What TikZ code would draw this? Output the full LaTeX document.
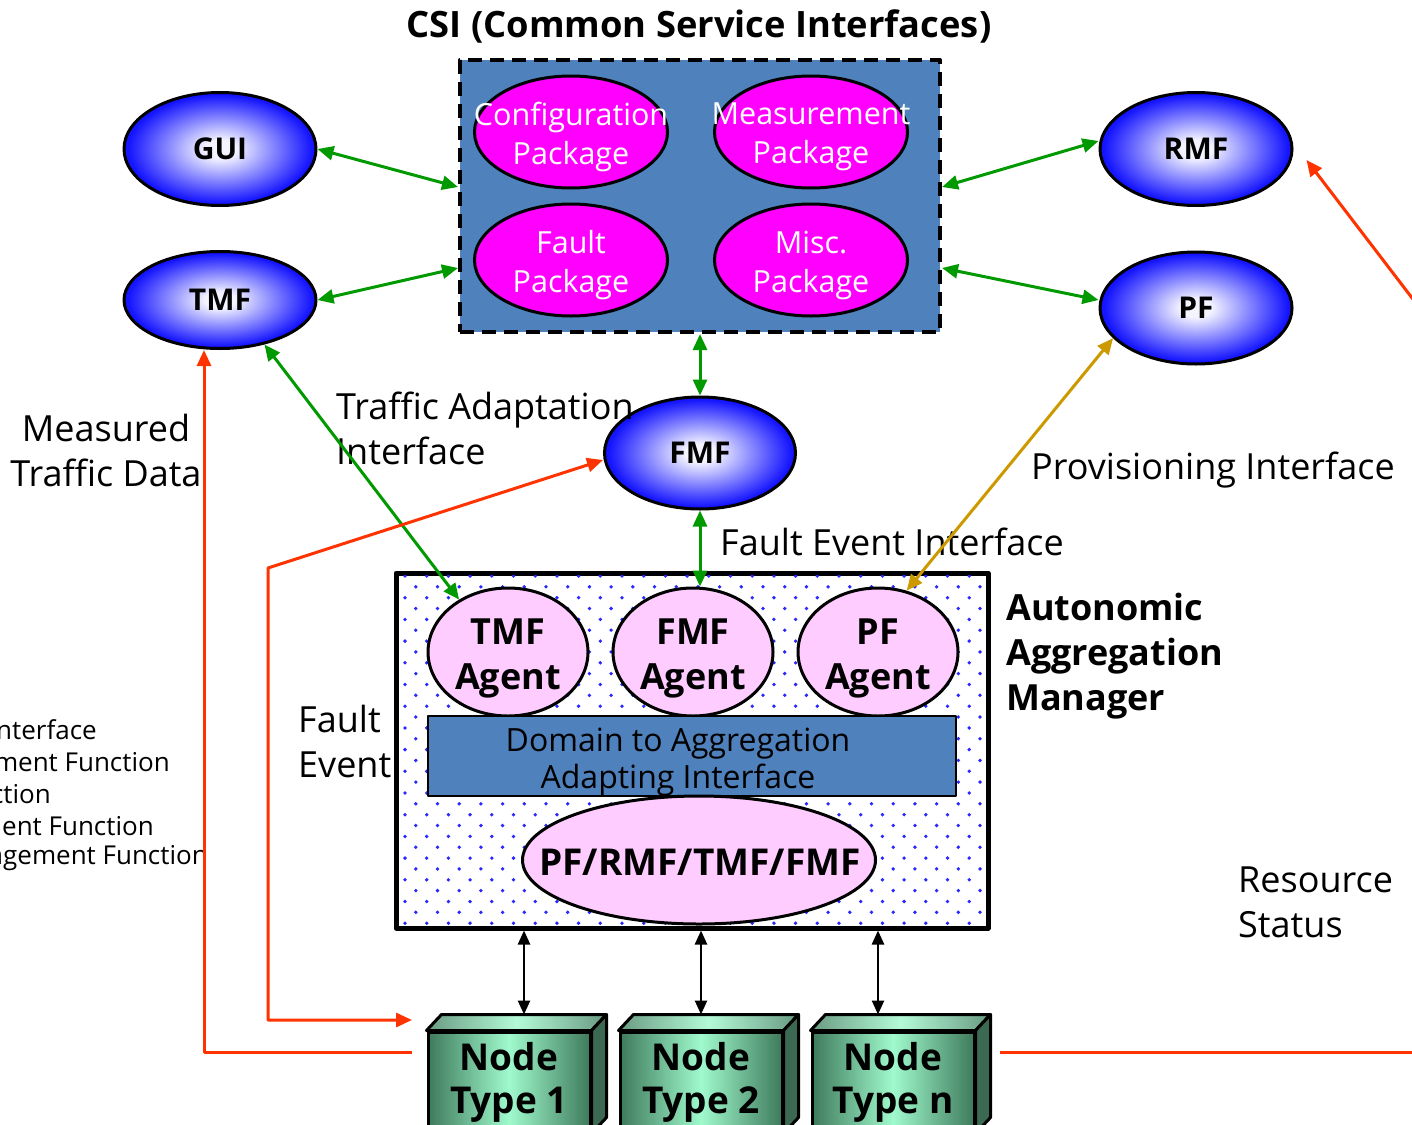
\documentclass[tikz,border=0pt]{standalone}
\usepackage{fontspec}
\setmainfont{Open Sans}
\usetikzlibrary{shapes.geometric,arrows.meta,calc}

\definecolor{csiblue}{RGB}{79,129,189}
\definecolor{gr}{RGB}{0,153,0}
\definecolor{goldc}{RGB}{204,153,0}
\definecolor{rd}{RGB}{255,51,0}
\definecolor{pinkag}{RGB}{255,204,255}
\definecolor{magc}{RGB}{255,0,255}
\definecolor{ngd}{RGB}{62,122,92}
\definecolor{ngl}{RGB}{160,250,205}
\definecolor{ntd}{RGB}{105,155,130}
\definecolor{ntl}{RGB}{180,250,215}
\definecolor{nside}{RGB}{60,105,82}
\definecolor{dotblue}{RGB}{40,40,255}
\definecolor{ellc}{RGB}{244,244,255}
\definecolor{ellb}{RGB}{20,20,255}

\pgfdeclareradialshading{blueshade}{\pgfpoint{0bp}{0bp}}{color(0bp)=(ellc); color(4bp)=(ellc); color(24bp)=(ellb); color(50bp)=(ellb)}
\pgfdeclarehorizontalshading{frontshade}{100bp}{color(0bp)=(ngd); color(25bp)=(ngd); color(50bp)=(ngl); color(75bp)=(ngd); color(100bp)=(ngd)}
\pgfdeclarehorizontalshading{topshade}{100bp}{color(0bp)=(ntd); color(25bp)=(ntd); color(50bp)=(ntl); color(75bp)=(ntd); color(100bp)=(ntd)}

\begin{document}
\begin{tikzpicture}[x=1pt,y=-1pt,line join=round,
  blueell/.style={ellipse, draw=black, line width=3pt, shading=blueshade, minimum width=192pt, minimum height=113pt, inner sep=0pt, font=\bfseries\fontsize{30}{34}\selectfont},
  pkg/.style={ellipse, draw=black, line width=3pt, fill=magc, minimum width=193pt, minimum height=112pt, inner sep=0pt},
  pkgtxt/.style={text=white, align=center, font=\fontsize{30.5}{39}\selectfont, inner sep=0pt},
  agent/.style={ellipse, draw=black, line width=3pt, fill=pinkag, minimum width=160pt, minimum height=128pt, inner sep=0pt},
  boldtxt/.style={align=center, font=\bfseries\fontsize{36}{45}\selectfont, inner sep=0pt},
  lbl/.style={align=left, font=\fontsize{36}{45}\selectfont, inner sep=0pt},
  small/.style={font=\fontsize{26}{32}\selectfont, inner sep=0pt, anchor=east},
  nodebox/.style={rectangle, draw=black, line width=3pt, shading=frontshade, minimum width=162pt, minimum height=100pt, inner sep=0pt, align=center, font=\bfseries\fontsize{37}{43}\selectfont},
  garrow/.style={draw=gr, line width=3pt, {Triangle[length=16pt,width=14pt]}-{Triangle[length=16pt,width=14pt]}},
  yarrow/.style={draw=goldc, line width=3pt, {Triangle[length=16pt,width=14pt]}-{Triangle[length=16pt,width=14pt]}},
  barrow/.style={draw=black, line width=2.5pt, {Triangle[length=14pt,width=12pt]}-{Triangle[length=14pt,width=12pt]}},
  rline/.style={draw=rd, line width=3pt}
]
\useasboundingbox (0,0) rectangle (1412,1124);

% title
\node[font=\bfseries\fontsize{36.3}{40}\selectfont, inner sep=0pt] (title) at (699,26) {CSI (Common Service Interfaces)};

% CSI box
\node[draw=black, line width=4pt, dash pattern=on 14pt off 8pt, fill=csiblue, minimum width=480pt, minimum height=272pt, inner sep=0pt] (csi) at (700,196) {};
\node[pkg] (cfg) at (571,132) {};
\node[pkg] (meas) at (811,132) {};
\node[pkg] (flt) at (571,260) {};
\node[pkg] (misc) at (811,260) {};
\node[pkgtxt] (cfgt) at (571,137) {Configuration\\Package};
\node[pkgtxt] (meast) at (811,137) {Measurement\\Package};
\node[pkgtxt] (fltt) at (571,265) {Fault\\Package};
\node[pkgtxt] (misct) at (811,265) {Misc.\\Package};

% blue ellipses
\node[blueell] (gui) at (220,149) {GUI};
\node[blueell, minimum height=97pt] (tmf) at (220,300) {TMF};
\node[blueell] (rmf) at (1196,149) {RMF};
\node[blueell, minimum height=112pt] (pf) at (1196,308) {PF};
\node[blueell, minimum width=191pt, minimum height=112pt] (fmf) at (700,453) {FMF};

% AAM box
\node[draw=black, line width=5pt, minimum width=592pt, minimum height=355pt, inner sep=0pt] (aam) at (692,750.5) {};
\begin{scope}
  \clip (398.5,575.5) rectangle (985.5,925.5);
  \foreach \yy in {0,...,16} {
    \foreach \xx in {0,...,27} {
      \fill[dotblue] (405+21.7*\xx, 576+21.7*\yy) circle (1.9pt);
      \fill[dotblue] (415.8+21.7*\xx, 586.8+21.7*\yy) circle (1.9pt);
    }
  }
\end{scope}

\node[agent] (tmfa) at (508,652) {};
\node[agent] (fmfa) at (693,652) {};
\node[agent] (pfa) at (878,652) {};
\node[boldtxt] (tmfat) at (508,658) {TMF\\Agent};
\node[boldtxt] (fmfat) at (693,658) {FMF\\Agent};
\node[boldtxt] (pfat) at (878,658) {PF\\Agent};

\node[draw=black, line width=2pt, fill=csiblue, minimum width=528pt, minimum height=80pt, inner sep=0pt] (dom) at (692,756) {};
\node[align=center, font=\fontsize{32}{37}\selectfont, inner sep=0pt] (domt) at (678,762) {Domain to Aggregation\\Adapting Interface};

\node[agent, minimum width=353pt, minimum height=128pt] (core) at (699,860) {};
\node[align=center, font=\bfseries\fontsize{37}{45}\selectfont, inner sep=0pt] (coret) at (700,862) {PF/RMF/TMF/FMF};

% resource nodes
\node[nodebox] (n1) at (509,1082) {Node\\Type 1};
\node[nodebox] (n2) at (701,1082) {Node\\Type 2};
\node[nodebox] (n3) at (893,1082) {Node\\Type n};
\foreach \n in {n1,n2,n3} {
  \path[draw=black, line width=3pt, shading=topshade] (\n.north west) -- ++(15pt,16pt) -- ([shift={(15pt,16pt)}]\n.north east) -- (\n.north east) -- cycle;
  \path[draw=black, line width=3pt, fill=nside] (\n.north east) -- ++(15pt,16pt) -- ([shift={(15pt,16pt)}]\n.south east) -- (\n.south east) -- cycle;
}

% labels
\node[lbl, align=center] (mtd) at (106,450) {Measured\\Traffic Data};
\node[lbl, anchor=west] (tai) at (336,428) {Traffic Adaptation\\Interface};
\node[lbl, anchor=west] (prov) at (1031,470) {Provisioning Interface};
\node[lbl, anchor=west] (fei) at (720,542) {Fault Event Interface};
\node[boldtxt, align=left, anchor=west] (aaml) at (1006,656) {Autonomic\\Aggregation\\Manager};
\node[lbl, anchor=west] (fev) at (298,741) {Fault\\Event};
\node[lbl, anchor=west] (rs) at (1238,902) {Resource\\Status};

\node[small] (l1) at (97,730) {interface};
\node[small] (l2) at (170,762) {ment Function};
\node[small] (l3) at (51,794) {ction};
\node[small] (l4) at (154,826) {ent Function};
\node[small] (l5) at (208,858) {agement Function};

% green connectors
\draw[garrow] (gui.east) -- ([yshift=9pt]csi.west);
\draw[garrow] (tmf.east) -- ([yshift=-72pt]csi.west);
\draw[garrow] ([yshift=9pt]csi.east) -- ([yshift=8pt]rmf.west);
\draw[garrow] ([yshift=-72pt]csi.east) -- ([yshift=8pt]pf.west);
\draw[garrow] (csi.south) -- (fmf.north);
\draw[garrow] (fmf.south) -- (fmf.south |- fmfa.north);
\draw[garrow] (tmf.-45) -- (tmfa.133);
\draw[yarrow] (pf.200) -- (pfa.65);

% black connectors
\coordinate (t1) at ([xshift=15pt,yshift=16pt]n1.north);
\coordinate (t2) at ([yshift=16pt]n2.north);
\coordinate (t3) at ([xshift=-15pt,yshift=16pt]n3.north);
\draw[barrow] (t1 |- aam.south) -- (t1);
\draw[barrow] (t2 |- aam.south) -- (t2);
\draw[barrow] (t3 |- aam.south) -- (t3);

% red connectors
\coordinate (r1) at (412,1052);
\coordinate (r2) at (412,1020);
\coordinate (rc) at (268,568);
\coordinate (r3) at (1000,1052);
\coordinate (r3e) at (1420,1052);
\coordinate (r4) at (1422,311);
\draw[rline, -{Triangle[length=16pt,width=14pt]}] (r1) -| ([xshift=-16pt]tmf.south);
\draw[rline, {Triangle[length=16pt,width=14pt]}-{Triangle[length=16pt,width=14pt]}] (r2) -| (rc) -- ([yshift=-7pt]fmf.west);
\draw[rline] (r3) -- (r3e);
\draw[rline, -{Triangle[length=16pt,width=14pt]}] (r4) -- ([shift={(13pt,-11pt)}]rmf.east);
\end{tikzpicture}
\end{document}
